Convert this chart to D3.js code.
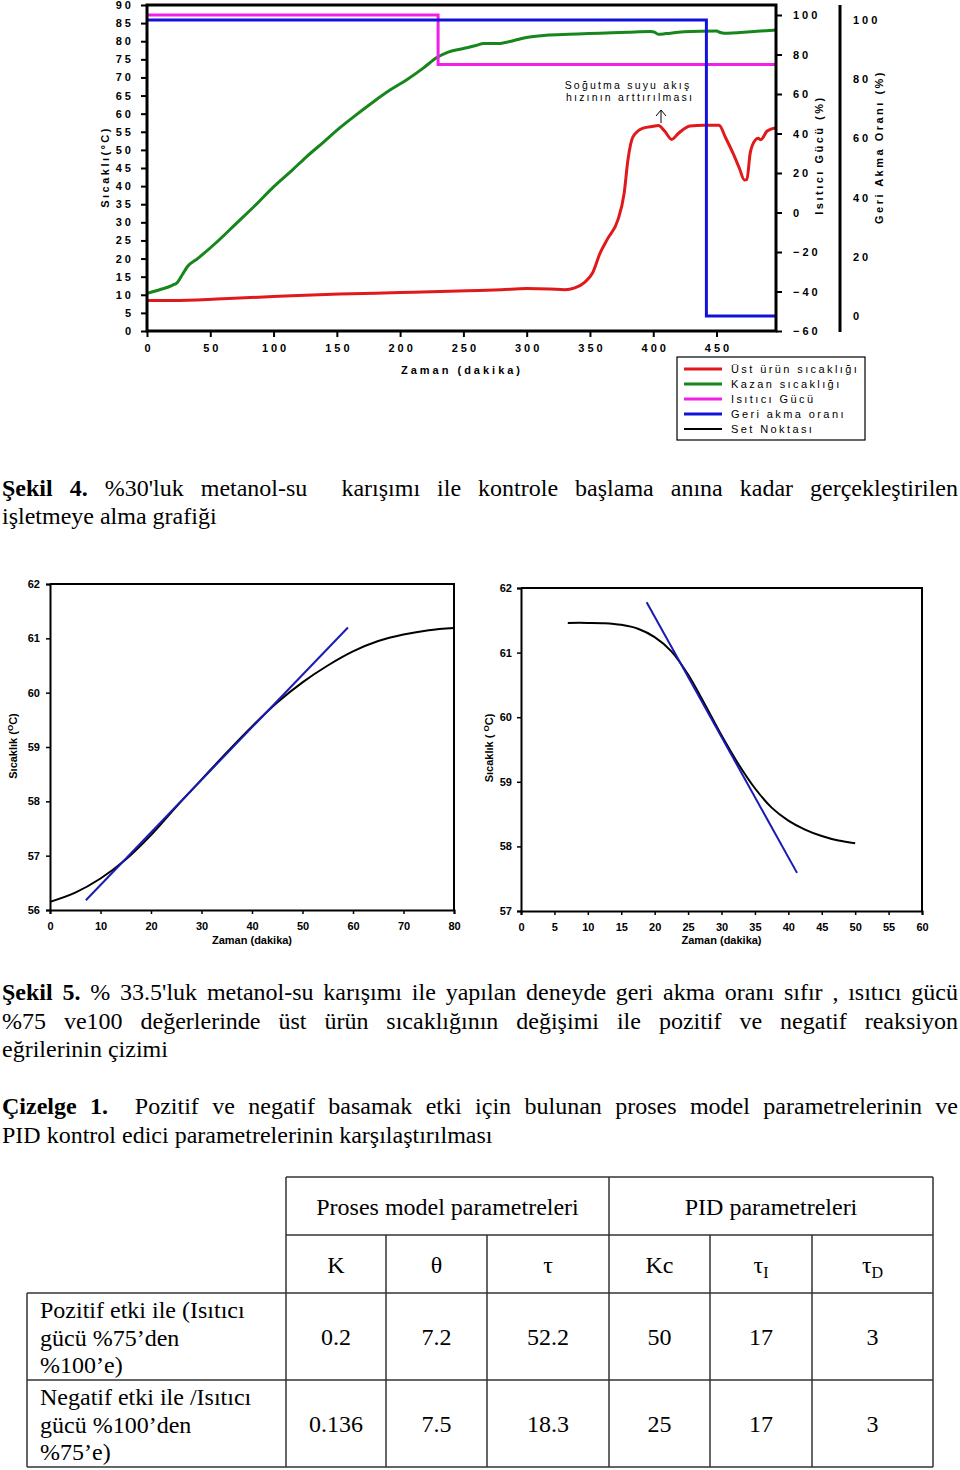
<!DOCTYPE html>
<html><head><meta charset="utf-8">
<script src="https://cdn.jsdelivr.net/npm/d3@7"></script>
<style>body{margin:0;background:#fff} svg{display:block}</style>
</head><body>
<svg id="c" width="960" height="1470"></svg>
<script>
// ---------------- Şekil 4 data ----------------
const timeTicks = d3.range(0, 451, 50);
const tempTicks = d3.range(0, 91, 5);
const powerTicks = d3.range(-60, 101, 20);
const refluxTicks = d3.range(0, 101, 20);

const kazanTime = [0,10,20,24,28,32,40,55,70,85,100,115,126,140,152,165,179,192,205,218,229,238,250,260,266,279,290,297,318,340,358,380,398,401,404,410,424,450,453,456,477,497];
const kazanTemp = [10.4,11.4,12.6,13.4,15.6,17.8,20.0,24.5,29.5,34.5,39.8,44.5,48.1,52.3,56.0,59.6,63.3,66.5,69.3,72.5,75.5,77.0,78.0,78.8,79.4,79.4,80.2,80.8,81.7,82.0,82.2,82.5,82.7,82.5,81.9,82.1,82.6,82.8,82.4,82.2,82.6,83.1];

const ustTime = [0,20,60,100,152,200,253,280,300,318,330,338,346,352,358,364,372,377,380,384,392,400,404,409,414.6,420,429,440,452,457,463,468,472,474,476.6,480.6,483,485,490,497];
const ustTemp = [8.4,8.4,8.9,9.5,10.2,10.6,11.1,11.4,11.7,11.6,11.4,11.9,13.5,16.0,21.5,25.5,30.6,38.0,47.2,53.6,56.0,56.5,56.7,55.2,52.9,54.6,56.6,56.8,56.8,53.5,49.1,45.0,41.7,41.8,49.1,52.7,53.2,52.8,55.2,56.1];

const heaterTime = [0, 230, 497];
const heaterPower = [100, 75, 75];
const refluxTime = [0, 442, 497];
const refluxRate = [100, 0, 0];

const legendLabels = ["Üst ürün sıcaklığı", "Kazan sıcaklığı", "Isıtıcı Gücü", "Geri akma oranı", "Set Noktası"];
const legendColors = ["#e0191b", "#17861d", "#f020e8", "#1212d8", "#000000"];

// ---------------- Şekil 5 data ----------------
const posTime = [0,5,10,15,20,25,30,35,40,45,50,55,60,65,70,75,80];
const posTemp = [56.15,56.32,56.58,56.93,57.38,57.9,58.4,58.9,59.38,59.82,60.19,60.5,60.76,60.95,61.07,61.15,61.19];
const posTangentTime = [7.1, 59.0];
const posTangentTemp = [56.18, 61.2];
const posXTicks = d3.range(0, 81, 10);
const posYTicks = d3.range(56, 63, 1);

const negTime = [7,10,12.5,15,17.5,20,22.5,25,27.5,30,32.5,35,37.5,40,42.5,45,47.5,50];
const negTemp = [61.46,61.46,61.455,61.43,61.37,61.24,61.02,60.66,60.2,59.72,59.28,58.9,58.6,58.4,58.26,58.16,58.09,58.05];
const negTangentTime = [18.8, 41.3];
const negTangentTemp = [61.78, 57.59];
const negXTicks = d3.range(0, 61, 5);
const negYTicks = d3.range(57, 63, 1);

// ---------------- Çizelge 1 data ----------------
const tableGroups = ["Proses model parametreleri", "PID parametreleri"];
const tableCols = [["K",""], ["θ",""], ["τ",""], ["Kc",""], ["τ","I"], ["τ","D"]];
const tableRowLabels = [["Pozitif etki ile (Isıtıcı", "gücü %75’den", "%100’e)"], ["Negatif etki ile /Isıtıcı", "gücü %100’den", "%75’e)"]];
const tableValues = [["0.2","7.2","52.2","50","17","3"], ["0.136","7.5","18.3","25","17","3"]];

// ---------------- captions ----------------
const captions = [
  {y: 496, bold: 2, justify: true, text: "Şekil 4. %30'luk metanol-su  karışımı ile kontrole başlama anına kadar gerçekleştirilen"},
  {y: 524, bold: 0, justify: false, text: "işletmeye alma grafiği"},
  {y: 1000, bold: 2, justify: true, text: "Şekil 5. % 33.5'luk metanol-su karışımı ile yapılan deneyde geri akma oranı sıfır , ısıtıcı gücü"},
  {y: 1029, bold: 0, justify: true, text: "%75 ve100 değerlerinde üst ürün sıcaklığının değişimi ile pozitif ve negatif reaksiyon"},
  {y: 1057, bold: 0, justify: false, text: "eğrilerinin çizimi"},
  {y: 1114, bold: 2, justify: true, text: "Çizelge 1.  Pozitif ve negatif basamak etki için bulunan proses model parametrelerinin ve"},
  {y: 1143, bold: 0, justify: false, text: "PID kontrol edici parametrelerinin karşılaştırılması"}
];

const svg = d3.select("#c");
svg.append("rect").attr("width", 960).attr("height", 1470).attr("fill", "#fff");
const SANS = "'Liberation Sans', Arial, sans-serif";
const SERIF = "'Liberation Serif', 'Times New Roman', serif";

// ================= Şekil 4 =================
const x = d3.scaleLinear([0, 497], [147, 776]);
const yT = d3.scaleLinear([0, 90], [331, 5]);
const yP = d3.scaleLinear([-60, 100], [331, 15]);
const yR = d3.scaleLinear([0, 100], [316, 20]);

const topG = svg.append("g");
function styleAxis(g, ls) {
  g.select(".domain").remove();
  g.selectAll("line").attr("stroke", "#000").attr("stroke-width", 2);
  g.selectAll("text").attr("font-family", SANS).attr("font-weight", "bold")
    .attr("font-size", 11).attr("letter-spacing", ls + "px").attr("fill", "#000");
}
const axL = topG.append("g").attr("transform", "translate(147,0)")
  .call(d3.axisLeft(yT).tickValues(tempTicks).tickSize(6).tickPadding(7));
styleAxis(axL, 3);
const axB = topG.append("g").attr("transform", "translate(0,331)")
  .call(d3.axisBottom(x).tickValues(timeTicks).tickSize(6).tickPadding(7));
styleAxis(axB, 3);
axB.selectAll("text").attr("dx", "1.5px");
const axP = topG.append("g").attr("transform", "translate(776,0)")
  .call(d3.axisRight(yP).tickValues(powerTicks).tickSize(6).tickPadding(11));
styleAxis(axP, 3);
const axR = topG.append("g").attr("transform", "translate(840,0)")
  .call(d3.axisRight(yR).tickValues(refluxTicks).tickSize(0).tickPadding(13));
styleAxis(axR, 3);
topG.append("line").attr("x1", 840).attr("x2", 840).attr("y1", 5).attr("y2", 332)
  .attr("stroke", "#000").attr("stroke-width", 3);

// series
const lineT = (xs, ys, sc, curve) => d3.line().x((d, i) => x(xs[i])).y((d, i) => sc(ys[i])).curve(curve)(xs);
topG.append("path").attr("d", lineT(ustTime, ustTemp, yT, d3.curveMonotoneX))
  .attr("fill", "none").attr("stroke", legendColors[0]).attr("stroke-width", 3).attr("stroke-linejoin", "round");
topG.append("path").attr("d", lineT(kazanTime, kazanTemp, yT, d3.curveMonotoneX))
  .attr("fill", "none").attr("stroke", legendColors[1]).attr("stroke-width", 3).attr("stroke-linejoin", "round");
topG.append("path").attr("d", lineT(heaterTime, heaterPower, yP, d3.curveStepAfter))
  .attr("fill", "none").attr("stroke", legendColors[2]).attr("stroke-width", 3);
topG.append("path").attr("d", lineT(refluxTime, refluxRate, yR, d3.curveStepAfter))
  .attr("fill", "none").attr("stroke", legendColors[3]).attr("stroke-width", 3);

// frame
topG.append("rect").attr("x", 147).attr("y", 5).attr("width", 629).attr("height", 326)
  .attr("fill", "none").attr("stroke", "#000").attr("stroke-width", 3);

// axis titles
const rotTitle = (xx, yy, txt, ls, w) => topG.append("text")
  .attr("transform", `translate(${xx},${yy}) rotate(-90)`).attr("text-anchor", "middle")
  .attr("font-family", SANS).attr("font-size", 11).attr("font-weight", w)
  .attr("letter-spacing", ls + "px").text(txt);
rotTitle(109, 167, "Sıcaklı(ºC)", 2.5, "bold");
rotTitle(823, 155, "Isıtıcı Gücü (%)", 2.5, "bold");
rotTitle(883, 147, "Geri Akma Oranı (%)", 2.5, "bold");
topG.append("text").attr("x", 462).attr("y", 374).attr("text-anchor", "middle")
  .attr("font-family", SANS).attr("font-size", 11).attr("font-weight", "bold")
  .attr("letter-spacing", "3px").text("Zaman (dakika)");

// annotation
topG.append("text").attr("x", 628).attr("y", 89).attr("text-anchor", "middle")
  .attr("font-family", SANS).attr("font-size", 10.5).attr("letter-spacing", "2.2px").text("Soğutma suyu akış");
topG.append("text").attr("x", 630).attr("y", 101).attr("text-anchor", "middle")
  .attr("font-family", SANS).attr("font-size", 10.5).attr("letter-spacing", "2.2px").text("hızının arttırılması");
topG.append("path").attr("d", "M661,123 L661,110 M656,116 L661,110 L666,116")
  .attr("fill", "none").attr("stroke", "#000").attr("stroke-width", 1);

// legend
const lg = topG.append("g");
lg.append("rect").attr("x", 677).attr("y", 357).attr("width", 188).attr("height", 83)
  .attr("fill", "#fff").attr("stroke", "#000").attr("stroke-width", 1.2);
legendLabels.forEach((lab, i) => {
  const yy = 369 + i * 15;
  lg.append("line").attr("x1", 684).attr("x2", 722).attr("y1", yy).attr("y2", yy)
    .attr("stroke", legendColors[i]).attr("stroke-width", i === 4 ? 2 : 3);
  lg.append("text").attr("x", 731).attr("y", yy + 4).attr("font-family", SANS)
    .attr("font-size", 11).attr("letter-spacing", "2.4px").text(lab);
});

// ================= Şekil 5 =================
function smallChart(opts) {
  const g = svg.append("g");
  const sx = d3.scaleLinear(opts.xd, opts.xr);
  const sy = d3.scaleLinear(opts.yd, opts.yr);
  g.append("path").attr("d", `M${opts.xr[0]},${opts.yr[1]} H${opts.xr[1]} V${opts.yr[0]}`)
    .attr("fill", "none").attr("stroke", "#000").attr("stroke-width", 2);
  const ax = g.append("g").attr("transform", `translate(${opts.xr[0]},0)`)
    .call(d3.axisLeft(sy).tickValues(opts.yt).tickFormat(d3.format("d")).tickSize(4).tickPadding(opts.ypad));
  const bx = g.append("g").attr("transform", `translate(0,${opts.yr[0]})`)
    .call(d3.axisBottom(sx).tickValues(opts.xt).tickFormat(d3.format("d")).tickSize(4).tickPadding(8));
  [ax, bx].forEach(a => {
    a.select(".domain").attr("stroke", "#000").attr("stroke-width", 2);
    a.selectAll("line").attr("stroke", "#000").attr("stroke-width", 1.5);
    a.selectAll("text").attr("font-family", SANS).attr("font-weight", "bold").attr("font-size", 11).attr("fill", "#000");
  });
  const ln = d3.line().x((d, i) => sx(opts.t[i])).y((d, i) => sy(opts.v[i])).curve(d3.curveCatmullRom.alpha(0.5));
  g.append("path").attr("d", ln(opts.t)).attr("fill", "none").attr("stroke", "#000").attr("stroke-width", 2);
  const tl = d3.line().x((d, i) => sx(opts.tt[i])).y((d, i) => sy(opts.tv[i]));
  g.append("path").attr("d", tl(opts.tt)).attr("fill", "none").attr("stroke", "#1a1ab4").attr("stroke-width", 2);
  g.append("text").attr("x", (opts.xr[0] + opts.xr[1]) / 2).attr("y", 944).attr("text-anchor", "middle")
    .attr("font-family", SANS).attr("font-weight", "bold").attr("font-size", 11).text("Zaman (dakika)");
  const yl = g.append("text").attr("transform", `translate(${opts.ylx},${opts.yly}) rotate(-90)`)
    .attr("text-anchor", "middle").attr("font-family", SANS).attr("font-weight", "bold").attr("font-size", 11);
  yl.append("tspan").text(opts.ylab[0]);
  yl.append("tspan").attr("font-size", 8).attr("dy", -4).text("O");
  yl.append("tspan").attr("dy", 4).text("C)");
}
smallChart({xd: [0, 80], xr: [50, 454], yd: [56, 62], yr: [910, 584], xt: posXTicks, yt: posYTicks, ypad: 6,
  t: posTime, v: posTemp, tt: posTangentTime, tv: posTangentTemp, ylx: 17, yly: 746, ylab: ["Sıcaklık ("]});
smallChart({xd: [0, 60], xr: [521, 922], yd: [57, 62], yr: [911, 588], xt: negXTicks, yt: negYTicks, ypad: 5,
  t: negTime, v: negTemp, tt: negTangentTime, tv: negTangentTemp, ylx: 493, yly: 748, ylab: ["Sıcaklık ( "]});

// ================= captions =================
function drawLine(c) {
  const g = svg.append("g");
  const parts = c.text.split(" ");
  const words = [];
  parts.forEach(p => { if (p === "") { if (words.length) words[words.length - 1].extra += 1; } else words.push({t: p, extra: 0}); });
  const nodes = words.map((w, i) => g.append("text").attr("y", c.y).attr("font-family", SERIF)
    .attr("font-size", 24).attr("font-weight", i < c.bold ? "bold" : "normal").text(w.t));
  const widths = nodes.map(n => n.node().getComputedTextLength());
  const total = d3.sum(widths);
  const x0 = 2, x1 = 958;
  let weights = 0;
  words.forEach((w, i) => { if (i < words.length - 1) weights += 1 + w.extra; });
  const gap = c.justify ? (x1 - x0 - total) / weights : 6;
  let cx = x0;
  nodes.forEach((n, i) => { n.attr("x", cx); cx += widths[i] + gap * (1 + words[i].extra); });
}
captions.forEach(drawLine);

// ================= table =================
const tg = svg.append("g").attr("stroke", "#333").attr("stroke-width", 1.5);
const colX = [286, 386, 487, 609, 710, 812, 933];
const rowY = [1177, 1235, 1293, 1380, 1467];
[[286, 933, 1177], [286, 933, 1235], [27, 933, 1293], [27, 933, 1380], [27, 933, 1467]].forEach(([a, b, yy]) =>
  tg.append("line").attr("x1", a).attr("x2", b).attr("y1", yy).attr("y2", yy));
[[27, 1293, 1467], [286, 1177, 1467], [609, 1177, 1467], [933, 1177, 1467], [386, 1235, 1467], [487, 1235, 1467], [710, 1235, 1467], [812, 1235, 1467]]
  .forEach(([xx, a, b]) => tg.append("line").attr("x1", xx).attr("x2", xx).attr("y1", a).attr("y2", b));
const tt = svg.append("g").attr("font-family", SERIF).attr("font-size", 24).attr("fill", "#000");
tt.append("text").attr("x", (colX[0] + colX[3]) / 2).attr("y", 1215).attr("text-anchor", "middle").text(tableGroups[0]);
tt.append("text").attr("x", (colX[3] + colX[6]) / 2).attr("y", 1215).attr("text-anchor", "middle").text(tableGroups[1]);
tableCols.forEach((c, i) => {
  const t = tt.append("text").attr("x", (colX[i] + colX[i + 1]) / 2).attr("y", 1273).attr("text-anchor", "middle");
  t.append("tspan").text(c[0]);
  if (c[1]) t.append("tspan").attr("font-size", 16).attr("dy", 5).text(c[1]);
});
tableRowLabels.forEach((lines, r) => {
  lines.forEach((l, k) => tt.append("text").attr("x", 40).attr("y", rowY[2 + r] + 25 + k * 27.5).text(l));
  tableValues[r].forEach((v, i) => tt.append("text").attr("x", (colX[i] + colX[i + 1]) / 2)
    .attr("y", rowY[2 + r] + 52).attr("text-anchor", "middle").text(v));
});
</script>
</body></html>
